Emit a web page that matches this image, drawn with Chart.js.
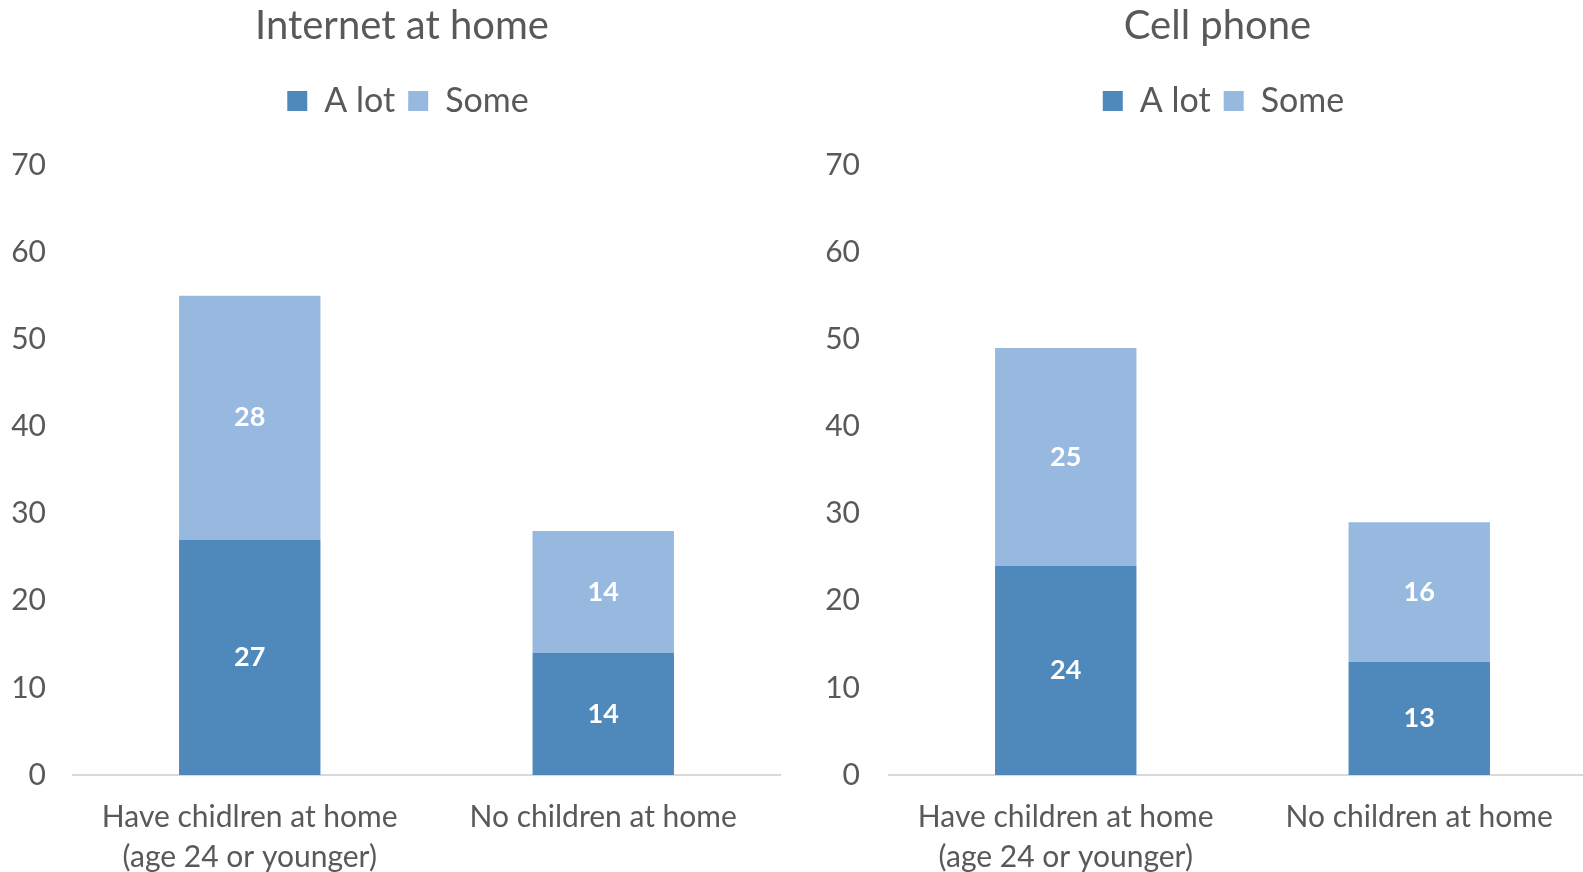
<!DOCTYPE html>
<html>
<head>
<meta charset="utf-8">
<script src="https://cdn.jsdelivr.net/npm/chart.js@4"></script>
<style>
  html, body { margin: 0; padding: 0; background: #fff; overflow: hidden; }
  #wrap { position: relative; width: 1583px; height: 872px; overflow: hidden; }
  .box { position: absolute; top: 0; height: 872px; }
</style>
</head>
<body>
<div id="wrap">
  <div class="box" style="left:0;width:791px"><canvas id="internetChart"></canvas></div>
  <div class="box" style="left:791px;width:805px"><canvas id="phoneChart"></canvas></div>
</div>
<script>
// Dane
const seriesNames = ["A lot", "Some"]
const internetCategories = [["Have chidlren at home", "(age 24 or younger)"], "No children at home"]
const phoneCategories = [["Have children at home", "(age 24 or younger)"], "No children at home"]
const internetALot = [27, 14]
const internetSome = [28, 14]
const phoneALot = [24, 13]
const phoneSome = [25, 16]
const yMin = 0
const yMax = 70
const yStep = 10

const darkBlue = "#4F88BB"
const lightBlue = "#98B9DF"
const textGrey = "#595959"
const fontName = "Lato"

// Etykiety wartości w środku słupków
const barLabels = {
  id: "barLabels",
  afterDatasetsDraw(chart) {
    const ctx = chart.ctx
    ctx.save()
    ctx.font = "bold 27px " + fontName
    ctx.fillStyle = "#ffffff"
    ctx.textAlign = "center"
    ctx.textBaseline = "middle"
    chart.data.datasets.forEach((ds, i) => {
      chart.getDatasetMeta(i).data.forEach((bar, j) => {
        ctx.fillText(ds.data[j], bar.x, (bar.y + bar.base) / 2)
      })
    })
    ctx.restore()
  },
}

// Dodatkowy odstęp pod legendą
const legendGap = {
  id: "legendGap",
  beforeInit(chart) {
    const fit = chart.legend.fit
    chart.legend.fit = function () {
      fit.bind(chart.legend)()
      this.height += 37
    }
  },
}

// Przesunięcie tytułu i legendy w poziomie
const shiftHeader = {
  id: "shiftHeader",
  afterLayout(chart, args, opts) {
    chart.titleBlock.left += opts.titleDx
    chart.titleBlock.right += opts.titleDx
    chart.legend.left += opts.legendDx
    chart.legend.right += opts.legendDx
  },
}

function makeChart(id, title, categories, aLot, some, axisWidth, tickPad, rightPad, titleDx, legendDx) {
  return new Chart(document.getElementById(id), {
    type: "bar",
    data: {
      labels: categories,
      datasets: [
        { label: seriesNames[0], data: aLot, backgroundColor: darkBlue },
        { label: seriesNames[1], data: some, backgroundColor: lightBlue },
      ],
    },
    options: {
      responsive: true,
      maintainAspectRatio: false,
      animation: false,
      layout: { padding: { left: 0, right: rightPad, top: 0, bottom: 0 } },
      datasets: { bar: { categoryPercentage: 1, barPercentage: 0.4 } },
      plugins: {
        title: {
          display: true,
          text: title,
          color: textGrey,
          font: { family: fontName, size: 40, weight: "normal" },
          padding: { top: 2, bottom: 21 },
        },
        legend: {
          position: "top",
          labels: {
            color: textGrey,
            boxWidth: 20,
            boxHeight: 20,
            padding: 13,
            font: { family: fontName, size: 34 },
          },
        },
        tooltip: { enabled: false },
        shiftHeader: { titleDx: titleDx, legendDx: legendDx },
      },
      scales: {
        x: {
          stacked: true,
          grid: { display: false, drawTicks: false },
          border: { display: true, color: "#D9D9D9", width: 2 },
          ticks: {
            color: textGrey,
            padding: 22,
            maxRotation: 0,
            autoSkip: false,
            font: { family: fontName, size: 30, lineHeight: 1.333 },
          },
          afterFit: (scale) => { scale.height = 97 },
        },
        y: {
          stacked: true,
          min: yMin,
          max: yMax,
          grid: { display: false, drawTicks: false },
          border: { display: false },
          ticks: {
            stepSize: yStep,
            color: textGrey,
            padding: tickPad,
            font: { family: fontName, size: 30 },
          },
          afterFit: (scale) => { scale.width = axisWidth },
        },
      },
    },
    plugins: [barLabels, legendGap, shiftHeader],
  })
}

makeChart("internetChart", "Internet at home", internetCategories, internetALot, internetSome, 73, 27, 11, 12, 18)
makeChart("phoneChart", "Cell phone", phoneCategories, phoneALot, phoneSome, 98, 29, 0, 24, 30)
</script>
</body>
</html>
